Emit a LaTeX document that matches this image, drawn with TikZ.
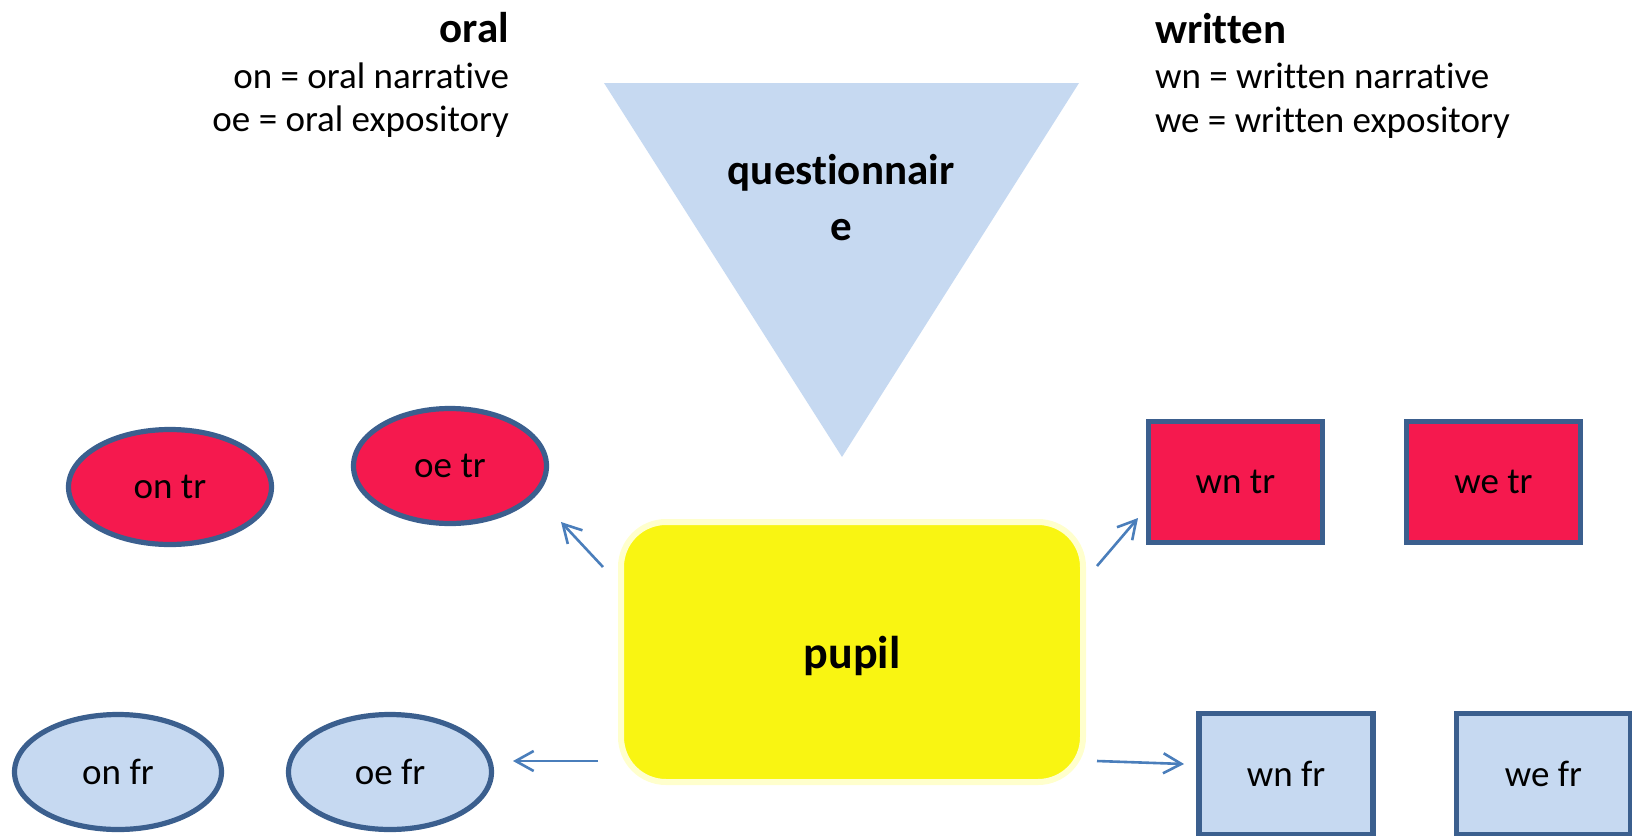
\documentclass[tikz,border=0pt]{standalone}
\usepackage{fontspec}
\setmainfont{Carlito}[Ligatures=NoCommon]
\usetikzlibrary{shapes.geometric,arrows.meta}
\definecolor{redfill}{RGB}{245,25,78}
\definecolor{bluefill}{RGB}{198,217,241}
\definecolor{darkborder}{RGB}{59,95,142}
\definecolor{yellowfill}{RGB}{249,245,18}
\definecolor{glow}{RGB}{255,255,205}
\definecolor{arrowcol}{RGB}{74,126,187}
\tikzset{
  lbl/.style={font=\fontsize{18.5}{22}\selectfont, text=black},
  head/.style={font=\bfseries\fontsize{21.5}{26}\selectfont, text=black},
  ovalbox/.style={ellipse, draw=darkborder, line width=2.6pt, inner sep=0pt, lbl},
  rectbox/.style={rectangle, draw=darkborder, line width=2.6pt, inner sep=0pt, minimum width=87pt, minimum height=60.5pt, lbl},
  redf/.style={fill=redfill},
  bluef/.style={fill=bluefill},
  conn/.style={draw=arrowcol, line width=1.3pt, -{Straight Barb[length=9pt,width=10pt,line width=1.3pt]}},
}
\begin{document}
\begin{tikzpicture}[x=0.5pt,y=-0.5pt]
\useasboundingbox (0,0) rectangle (1632,835);
% headings
\node[head, anchor=base east] (oral) at (516,42) {oral};
\node[lbl, anchor=base east] (on) at (516,88) {on = oral narrative};
\node[lbl, anchor=base east] (oe) at (516,131) {oe = oral expository};
\node[head, anchor=base west] (written) at (1148,43) {written};
\node[lbl, anchor=base west] (wn) at (1148,88) {wn = written narrative};
\node[lbl, anchor=base west] (we) at (1148,132) {we = written expository};
% triangle
\fill[bluefill] (604,83) -- (1079,83) -- (842,457) -- cycle;
\node[align=center, anchor=base, font=\bfseries\fontsize{21.5}{26}\selectfont] (quest) at (841,240) {questionnair\\[2pt]e};
% ellipses
\node[ovalbox, redf, minimum width=101.5pt, minimum height=57.5pt] (ontr) at (170,487) {on tr};
\node[ovalbox, redf, minimum width=96.5pt, minimum height=57.5pt] (oetr) at (450,466) {oe tr};
\node[ovalbox, bluef, minimum width=103.5pt, minimum height=57.5pt] (onfr) at (118,772) {on fr};
\node[ovalbox, bluef, minimum width=101.5pt, minimum height=57.5pt] (oefr) at (390,772) {oe fr};
% rectangles
\node[rectbox, redf] (wntr) at (1235.5,482) {wn tr};
\node[rectbox, redf] (wetr) at (1493.5,482) {we tr};
\node[rectbox, bluef] (wnfr) at (1286,774) {wn fr};
\node[rectbox, bluef] (wefr) at (1543.5,774) {we fr};
% pupil
\node[rectangle, rounded corners=22.5pt, fill=yellowfill, draw=glow, line width=3pt,
      minimum width=231pt, minimum height=130pt, inner sep=0pt] (pupil) at (852,652) {};
\node[font=\bfseries\fontsize{23}{28}\selectfont, anchor=base] (pupiltxt) at (852,668) {pupil};
% arrows
\coordinate (a1s) at (603,567); \coordinate (a1e) at (561,522);
\coordinate (a2s) at (1097,566); \coordinate (a2e) at (1138,518);
\coordinate (a3s) at (598,761); \coordinate (a3e) at (513,761);
\coordinate (a4s) at (1097,761); \coordinate (a4e) at (1184,764);
\draw[conn] (a1s) -- (a1e);
\draw[conn] (a2s) -- (a2e);
\draw[conn] (a3s) -- (a3e);
\draw[conn] (a4s) -- (a4e);
\end{tikzpicture}
\end{document}
